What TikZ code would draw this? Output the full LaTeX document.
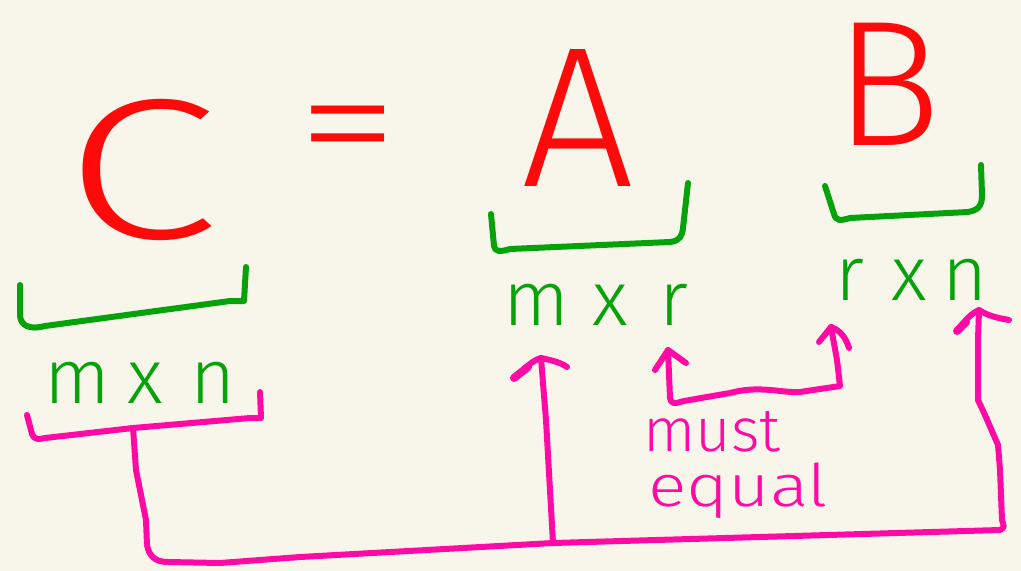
\documentclass[tikz,border=0pt]{standalone}
\usepackage{fontspec}
\setmainfont{Fira Sans Light}
\definecolor{bg}{HTML}{F8F6EA}
\definecolor{hred}{HTML}{FF0A0A}
\definecolor{hgreen}{HTML}{06A20A}
\definecolor{hpink}{HTML}{FF0AA5}
\tikzset{
  ink/.style={line width=4.5pt, line cap=round, line join=round},
  brace/.style={ink, draw=hgreen},
  link/.style={ink, draw=hpink},
  big/.style={text=hred, inner sep=0pt, font=\fontsize{150}{150}\selectfont},
  dim/.style={text=hgreen, inner sep=0pt, font=\fontsize{58}{58}\selectfont},
  note/.style={text=hpink, inner sep=0pt, font=\fontsize{46}{46}\selectfont},
}
\begin{document}
\begin{tikzpicture}[x=0.75pt, y=-0.75pt]
\fill[bg] (0,0) rectangle (1021,571);
\useasboundingbox (0,0) rectangle (1021,571);

% letters
\node[big, transform shape, xscale=1.4] (C) at (141,170) {C};
\node[big, font=\fontsize{140}{140}\selectfont, transform shape, xscale=1.1, yscale=0.85] (eq) at (348,141) {=};
\node[big] (A) at (578,118) {A};
\node[big, font=\fontsize{134}{134}\selectfont] (B) at (888,84) {B};

% green braces
\draw[brace] (20,285) -- (20,316) .. controls (21,326) and (30,330) .. (45,326)
  -- (230,301) -- (244,301) -- (246,267);
\draw[brace] (491,214) -- (494,246) .. controls (495,252) and (500,252) .. (510,249)
  -- (670,242) .. controls (680,241) and (682,236) .. (683,228) -- (688,183);
\draw[brace] (825,186) -- (834,214) .. controls (836,221) and (840,221) .. (850,218)
  -- (968,212) .. controls (980,210) and (982,204) .. (982,195) -- (981,165);

% dimension labels
\node[dim] (Cdim) at (140,383) {m\hspace{0.22em}x\hspace{0.35em}n};
\node[dim] (Adim) at (596,305) {m\hspace{0.3em}x\hspace{0.4em}r};
\node[dim] (Bdim) at (912,280) {r\hspace{0.35em}x\hspace{0.2em}n};

% connection points
\coordinate (brL) at (27,415);
\coordinate (brR) at (260,392);
\coordinate (stem) at (133,428);
\coordinate (jA) at (553,543);
\coordinate (tipA) at (541,358);
\coordinate (tipB) at (979,310);
\coordinate (tipR) at (668,350);
\coordinate (tipRB) at (831,327);

% pink bracket under m x n
\draw[link] (brL) -- (32,434) .. controls (34,439) and (37,440) .. (45,438)
  -- (stem) -- (250,418) -- (261,418) -- (brR);
% long connector
\draw[link] (stem) -- (136,470) -- (146,520) -- (147,545)
  .. controls (149,556) and (155,562) .. (168,562)
  -- (220,563) -- (300,557) -- (jA) -- (1000,530)
  .. controls (1006,528) and (1003,524) .. (1002,520)
  -- (1000,470) -- (998,445) -- (985,415) -- (978,400) -- (978,340) -- (tipB);
\draw[link] (jA) -- (546,420) -- (tipA);
% arrowheads
\draw[link] (514,378) .. controls (525,368) and (533,360) .. (tipA)
  .. controls (550,360) and (560,362) .. (567,367);
\draw[link, line width=6pt] (514,378) -- (528,367);
\draw[link] (957,331) .. controls (965,320) and (972,313) .. (tipB)
  .. controls (988,316) and (998,318) .. (1009,320);
\draw[link, line width=6pt] (957,331) -- (966,322);

% must equal connector
\draw[link] (tipR) -- (670,398) .. controls (671,404) and (674,404) .. (684,401)
  -- (730,393) .. controls (760,385) and (780,393) .. (800,392)
  -- (840,386) -- (837,360) -- (tipRB);
\draw[link] (655,370) -- (tipR) -- (686,363);
\draw[link] (819,342) -- (tipRB) .. controls (840,330) and (846,338) .. (849,348);

\node[note, anchor=base west] (must) at (643,451) {must};
\node[note, anchor=base west, transform shape, xscale=1.22, font=\fontsize{44}{44}\selectfont] (equal) at (648,506) {equal};
\end{tikzpicture}
\end{document}
